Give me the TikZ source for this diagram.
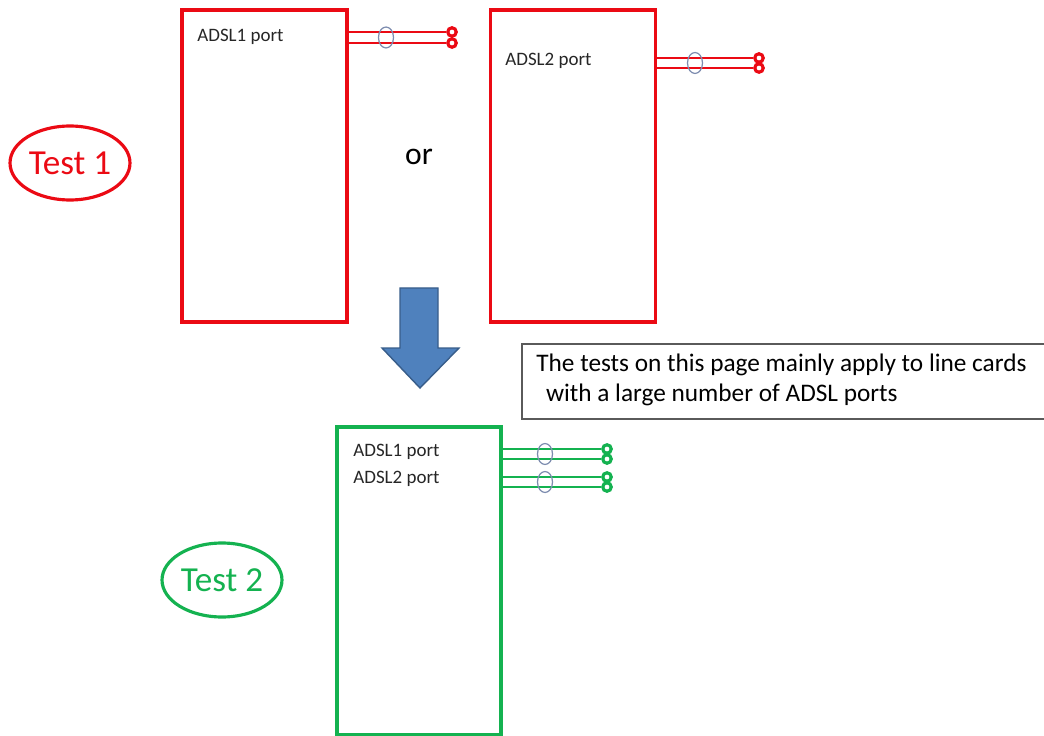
\documentclass[tikz,border=0pt]{standalone}
\usepackage{fontspec}
\setmainfont{Carlito}
\usetikzlibrary{positioning,shapes.geometric}
\definecolor{cardred}{RGB}{235,10,20}
\definecolor{cardgreen}{RGB}{20,178,80}
\definecolor{arrowblue}{RGB}{79,129,189}
\definecolor{arrowedge}{RGB}{56,93,138}
\definecolor{twistblue}{RGB}{125,140,175}
\definecolor{notegray}{RGB}{90,90,90}
\begin{document}
\begin{tikzpicture}[x=0.02cm,y=-0.02cm,
	card/.style={draw,line width=2pt,inner sep=0pt,minimum width=3.3cm,minimum height=6.24cm},
	portlbl/.style={anchor=west,inner sep=0pt,font=\fontsize{10.8}{12}\selectfont,text=black!85},
	wire/.style={line width=0.8pt},
	term/.style={circle,draw,line width=1.8pt,inner sep=0pt,minimum size=0.17cm},
	twist/.style={ellipse,draw=twistblue,line width=0.7pt,inner sep=0pt,minimum width=0.3cm,minimum height=0.42cm},
	testlbl/.style={ellipse,draw,line width=1.8pt,inner sep=0pt,minimum width=2.4cm,minimum height=1.48cm,font=\fontsize{20}{22}\selectfont}]
	\useasboundingbox (0,0) rectangle (1044,736);
	
	% Test 1: one port at a time
	\node[card,draw=cardred] (card1) at (264.5,166) {};
	\node[card,draw=cardred] (card2) at (573,166) {};
	\node[portlbl] (lbl1) at (197,37) {ADSL1 port};
	\node[portlbl] (lbl2) at (505,61) {ADSL2 port};
	\node[term,draw=cardred] (t1a) at (452,32) {};
	\node[term,draw=cardred] (t1b) at (452,43) {};
	\node[term,draw=cardred] (t2a) at (759,58) {};
	\node[term,draw=cardred] (t2b) at (759,68) {};
	\draw[wire,cardred] (card1.east |- t1a) -- (t1a.west) (card1.east |- t1b) -- (t1b.west);
	\draw[wire,cardred] (card2.east |- t2a) -- (t2a.west) (card2.east |- t2b) -- (t2b.west);
	\node[twist] (tw1) at (386,37.5) {};
	\node[twist] (tw2) at (695,63) {};
	\node[font=\fontsize{18}{20}\selectfont] (or) at (419,157) {or};
	\node[testlbl,draw=cardred,text=cardred] (test1) at (70,163) {Test 1};
	
	% down arrow
	\draw[fill=arrowblue,draw=arrowedge,line width=0.8pt]
		(400,288) -- (438,288) -- (438,348) -- (459,348) -- (420,388) -- (382,348) -- (400,348) -- cycle;
	
	% note
	\node[draw=notegray,line width=0.9pt,anchor=north west,minimum width=10.8cm,minimum height=1.5cm,
		inner sep=0pt] (note) at (521,343) {};
	\node[anchor=west,align=left,inner sep=0pt,font=\fontsize{14.4}{17.5}\selectfont]
		(notetxt) at (536,380) {The tests on this page mainly apply to line cards\\\hspace{0.8ex}with a large number of ADSL ports};
	
	% Test 2: both ports together
	\node[card,draw=cardgreen,minimum width=3.28cm,minimum height=6.16cm] (card3) at (419,581) {};
	\node[portlbl] (lbl3) at (353,452) {ADSL1 port};
	\node[portlbl] (lbl4) at (353,479) {ADSL2 port};
	\foreach \y/\n in {449/a,459/b,477/c,487/d}{
		\node[term,draw=cardgreen] (t3\n) at (607,\y) {};
		\draw[wire,cardgreen] (card3.east |- t3\n) -- (t3\n.west);
	}
	\node[twist] (tw3) at (545,454) {};
	\node[twist] (tw4) at (545,482) {};
	\node[testlbl,draw=cardgreen,text=cardgreen] (test2) at (222,580) {Test 2};
\end{tikzpicture}
\end{document}
